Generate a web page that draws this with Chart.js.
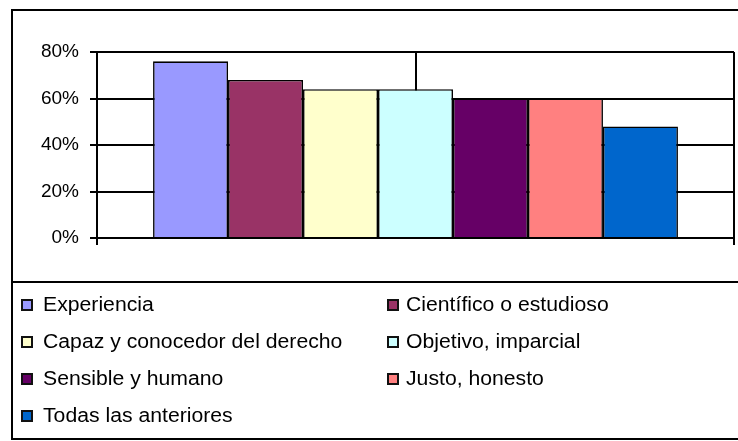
<!DOCTYPE html>
<html>
<head>
<meta charset="utf-8">
<script src="https://cdn.jsdelivr.net/npm/chart.js@4/dist/chart.umd.min.js"></script>
<style>
  html, body { margin: 0; padding: 0; background: #fff; overflow: hidden; }
  #wrap { position: relative; width: 738px; height: 441px; overflow: hidden; background: #fff; }
  #c { position: absolute; left: 0; top: 0; }
  #outer { position: absolute; left: 11px; top: 9px; width: 800px; height: 431px; box-sizing: border-box; border: 2px solid #000; pointer-events: none; }
  #legend { position: absolute; left: 11px; top: 281px; width: 800px; height: 159px; box-sizing: border-box; border: 2px solid #000; }
  .item { position: absolute; height: 12px; display: flex; align-items: center; white-space: nowrap; }
  .box { width: 12px; height: 12px; box-sizing: border-box; border: 2px solid #111; flex: none; }
  .txt { font-family: "Liberation Sans", Arial, sans-serif; font-size: 20px; line-height: 12px; color: #000; display: inline-block; transform: scaleX(1.06); transform-origin: left center; position: relative; top: -1px; }
</style>
</head>
<body>
<div id="wrap">
  <canvas id="c" width="738" height="441"></canvas>
  <div id="outer"></div>
  <div id="legend"></div>
</div>
<script>
const categories = [''];
const seriesNames = [
  'Experiencia',
  'Científico o estudioso',
  'Capaz y conocedor del derecho',
  'Objetivo, imparcial',
  'Sensible y humano',
  'Justo, honesto',
  'Todas las anteriores'
];
const seriesValues = [76, 68, 64, 64, 60, 60, 48];
const seriesColors = ['#9999FF', '#993366', '#FFFFCC', '#CCFFFF', '#660066', '#FF8080', '#0066CC'];
const yTickLabels = ['0%', '20%', '40%', '60%', '80%'];
const yTickValues = [0, 20, 40, 60, 80];

const datasets = seriesNames.map((name, i) => ({
  label: name,
  data: [seriesValues[i]],
  backgroundColor: seriesColors[i],
  borderColor: '#000',
  borderWidth: 1.6,
  categoryPercentage: 0.824,
  barPercentage: 1.0
}));

const centerLine = {
  id: 'centerLine',
  beforeDatasetsDraw(chart) {
    const ctx = chart.ctx, x = chart.scales.x.getPixelForValue(0), a = chart.chartArea;
    ctx.save();
    ctx.strokeStyle = '#000';
    ctx.lineWidth = 2;
    ctx.beginPath();
    ctx.moveTo(Math.round(x), a.top);
    ctx.lineTo(Math.round(x), a.bottom);
    ctx.stroke();
    ctx.restore();
  }
};

const chart = new Chart(document.getElementById('c'), {
  type: 'bar',
  data: { labels: categories, datasets },
  plugins: [centerLine],
  options: {
    responsive: false,
    animation: false,
    devicePixelRatio: 1,
    layout: { padding: { left: 0, right: 4, top: 52, bottom: 193 } },
    plugins: { legend: { display: false }, tooltip: { enabled: false } },
    scales: {
      x: {
        ticks: { display: false },
        grid: { display: true, offset: true, drawOnChartArea: true, color: '#000', lineWidth: 2, tickLength: 7 },
        border: { display: true, color: '#000', width: 2 },
        afterFit(s) { s.height = 10; }
      },
      y: {
        min: 0, max: 80,
        afterBuildTicks(s) { s.ticks = yTickValues.map(v => ({ value: v })); },
        ticks: {
          padding: 11,
          color: '#000',
          font: { family: '"Liberation Sans", Arial, sans-serif', size: 19 },
          callback: (v) => yTickLabels[yTickValues.indexOf(v)]
        },
        grid: { color: '#000', lineWidth: 2, tickLength: 7, drawOnChartArea: true },
        border: { display: true, color: '#000', width: 2 },
        afterFit(s) { s.width = 97; }
      }
    }
  }
});

// HTML legend from the library's generated legend items
const items = Chart.defaults.plugins.legend.labels.generateLabels(chart);
const legendEl = document.getElementById('legend');
const colX = [21, 387];
const rowY = [299, 336, 373, 410];
const textGap = [10, 7];
items.forEach((it, i) => {
  const col = i % 2, row = Math.floor(i / 2);
  const d = document.createElement('div');
  d.className = 'item';
  d.style.left = (colX[col] - 11 - 2) + 'px';
  d.style.top = (rowY[row] - 281 - 2) + 'px';
  const b = document.createElement('span');
  b.className = 'box';
  b.style.background = it.fillStyle;
  const t = document.createElement('span');
  t.className = 'txt';
  t.style.marginLeft = textGap[col] + 'px';
  t.textContent = it.text;
  d.appendChild(b); d.appendChild(t);
  legendEl.appendChild(d);
});
</script>
</body>
</html>
